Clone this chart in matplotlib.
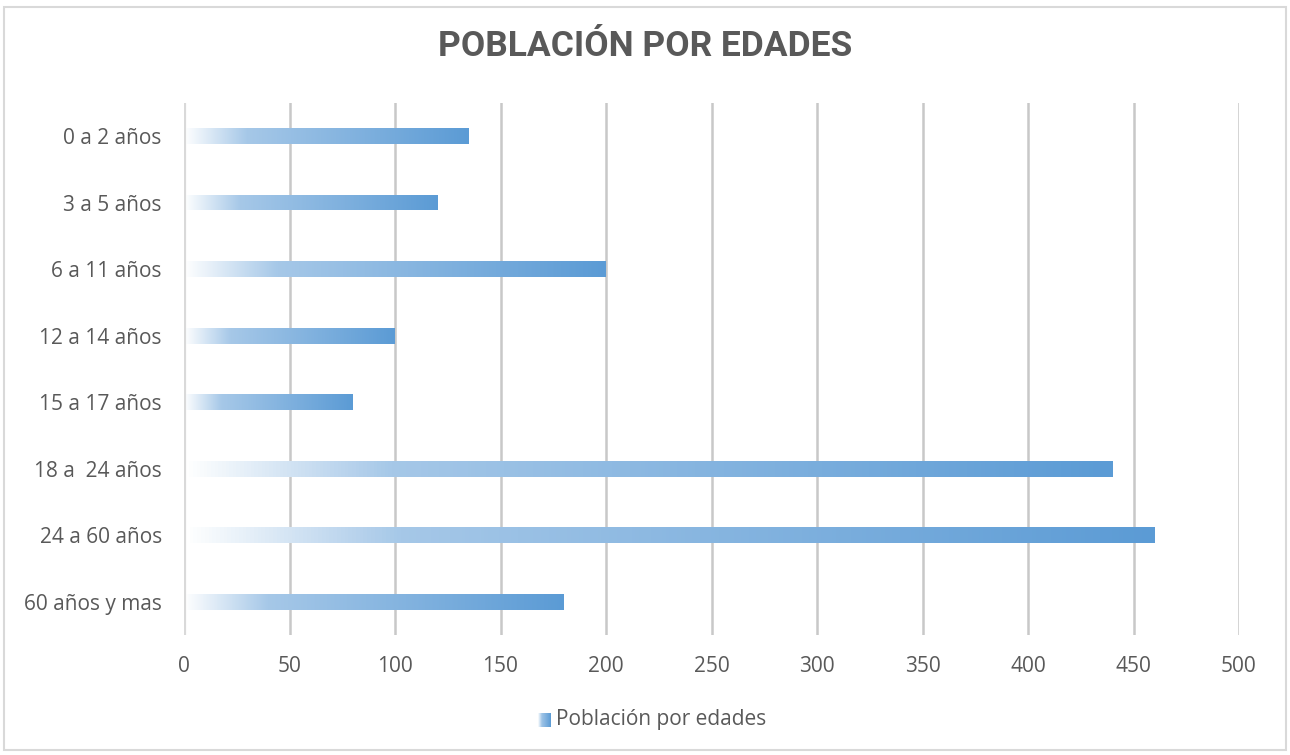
import matplotlib
matplotlib.use("Agg")
import matplotlib.pyplot as plt
import numpy as np
from matplotlib.colors import LinearSegmentedColormap
from matplotlib.patches import Rectangle

categories = ["0 a 2 años", "3 a 5 años", "6 a 11 años", "12 a 14 años",
              "15 a 17 años", "18 a  24 años", "24 a 60 años", "60 años y mas"]
values = [135, 120, 200, 100, 80, 440, 460, 180]
xticks = [0, 50, 100, 150, 200, 250, 300, 350, 400, 450, 500]
title = "POBLACIÓN POR EDADES"
legend_label = "Población por edades"

plt.rcParams['font.family'] = ['Open Sans', 'DejaVu Sans']
TXT = "#595959"

fig = plt.figure(figsize=(12.9, 7.55), dpi=100)
fig.patches.append(Rectangle((0.003, 0.006), 0.994, 0.985, transform=fig.transFigure,
                             fill=False, edgecolor="#D9D9D9", linewidth=1.5))

ax = fig.add_axes([184/1290, 1-635/755, (1239-184)/1290, (635-102.7)/755])

cmap = LinearSegmentedColormap.from_list("g", [(0, "#FFFFFF"), (0.22, "#A6C8E8"), (1.0, "#5B9BD5")])
grad = np.linspace(0, 1, 256).reshape(1, -1)

n = len(categories)
h = 0.24
for i, (c, v) in enumerate(zip(categories, values)):
    y = n - 1 - i
    im = ax.imshow(grad, cmap=cmap, extent=[0, v, y - h/2, y + h/2], aspect='auto',
                   interpolation='bicubic', zorder=2)
    rect = Rectangle((0, y - h/2), v, h, transform=ax.transData, facecolor='none', edgecolor='none')
    ax.add_patch(rect)
    im.set_clip_path(rect)

ax.set_xlim(0, 500)
ax.set_ylim(-0.5, n - 0.5)
ax.set_yticks(range(n))
ax.set_yticklabels(categories[::-1])
ax.set_xticks(xticks)
ax.set_xticklabels([str(t) for t in xticks])
ax.tick_params(axis='both', length=0, labelsize=15, labelcolor=TXT)
ax.tick_params(axis='y', pad=16)
ax.tick_params(axis='x', pad=15)
for t in xticks[1:]:
    ax.axvline(t, color="#C8C8C8", linewidth=1.8, zorder=1)
ax.axvline(0, color="#D9D9D9", linewidth=3, zorder=3)
for s in ax.spines.values():
    s.set_visible(False)

fig.text(0.5, 1-47/755, title, ha='center', va='center', fontsize=25.5, fontweight='bold',
         color=TXT, family=['Roboto', 'DejaVu Sans'])

# legend
lax = fig.add_axes([538/1290, 1-727/755, 13/1290, 14/755])
lax.imshow(grad, cmap=LinearSegmentedColormap.from_list("l", [(0, "#FFFFFF"), (0.3, "#9DC3E6"), (1.0, "#5B9BD5")]),
           aspect='auto', extent=[0, 1, 0, 1])
lax.set_axis_off()
fig.text(556/1290, 1-720/755, legend_label, ha='left', va='center', fontsize=15, color=TXT)

fig.savefig("out.png", dpi=100)
